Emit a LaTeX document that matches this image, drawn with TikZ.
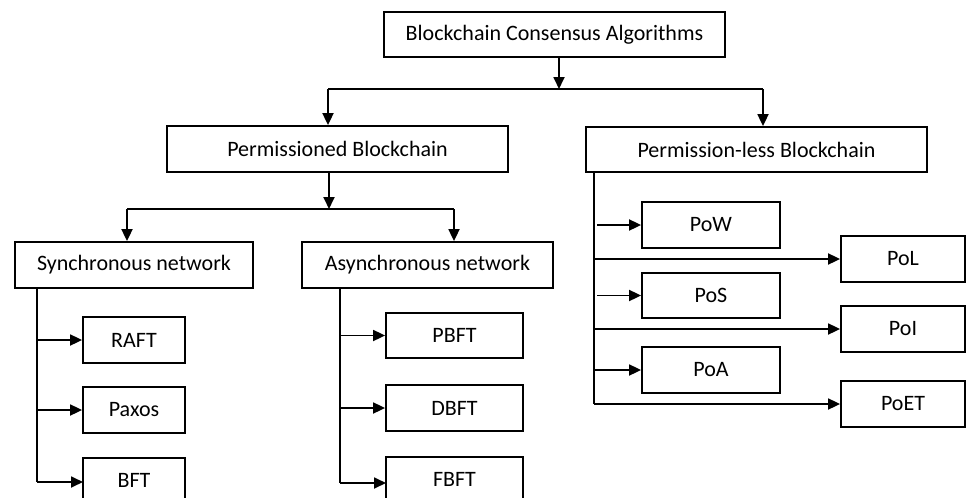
\documentclass[tikz,border=0pt]{standalone}
\usepackage{fontspec}
\setmainfont{Carlito}
\usetikzlibrary{arrows.meta}
\begin{document}
\begin{tikzpicture}[x=1pt,y=-1pt,
  box/.style={draw,line width=1.8pt,inner sep=0pt,font=\fontsize{22}{26}\selectfont,text=black},
  lbl/.style={inner sep=1pt,font=\fontsize{22}{26}\selectfont,text=black},
  ln/.style={line width=1.8pt},
  arr/.style={line width=1.8pt,-{Triangle[length=12pt,width=11pt]}}]
\useasboundingbox (0,0) rectangle (967,498);
\fill[white] (0,0) rectangle (967,498);
% level 0
\node[box,minimum width=341pt,minimum height=45pt] (top) at (554.5,34.5) {Blockchain Consensus Algorithms};
% level 1
\node[box,minimum width=341pt,minimum height=46pt] (perm) at (337.5,149) {Permissioned Blockchain};
\node[box,minimum width=341pt,minimum height=45pt] (pless) at (756.5,149.5) {Permission-less Blockchain};
% level 2
\node[box,minimum width=238pt,minimum height=46pt] (sync) at (134,265) {Synchronous network};
\node[box,minimum width=251pt,minimum height=46pt] (async) at (427.5,265) {Asynchronous network};
% leaves
\node[box,minimum width=102pt,minimum height=46pt] (raft) at (134,340) {RAFT};
\node[box,minimum width=102pt,minimum height=46pt] (paxos) at (134,410) {Paxos};
\node[lbl] (bft) at (134,480) {BFT};
\draw[ln] (83,510) |- (185,458) -- (185,510);
\coordinate (bftw) at (83,482);
\node[box,minimum width=137pt,minimum height=45pt] (pbft) at (454.5,335.5) {PBFT};
\node[box,minimum width=137pt,minimum height=46pt] (dbft) at (454.5,408) {DBFT};
\node[lbl] (fbft) at (454.5,479) {FBFT};
\draw[ln] (386,510) |- (523,457) -- (523,510);
\coordinate (fbftw) at (386,483);
\node[box,minimum width=138pt,minimum height=46pt] (pow) at (711,225) {PoW};
\node[box,minimum width=138pt,minimum height=45pt] (pos) at (711,295.5) {PoS};
\node[box,minimum width=138pt,minimum height=46pt] (poa) at (711,370) {PoA};
\node[box,minimum width=124pt,minimum height=46pt] (pol) at (903,259) {PoL};
\node[box,minimum width=124pt,minimum height=46pt] (poi) at (903,329) {PoI};
\node[box,minimum width=124pt,minimum height=46pt] (poet) at (903,404) {PoET};
% coordinates
\coordinate (j0) at (559,89);
\coordinate (j0l) at (328,89);
\coordinate (j0r) at (763,89);
\coordinate (j1) at (329,209);
\coordinate (j1l) at (127,209);
\coordinate (j1r) at (454,209);
\coordinate (sv) at (37,288);
\coordinate (av) at (340,288);
\coordinate (pv) at (594,172);
% top split
\draw[arr] (top.south -| j0) -- (j0);
\draw[ln] (j0l) -- (j0r);
\draw[arr] (j0l) -- (perm.north -| j0l);
\draw[arr] (j0r) -- (pless.north -| j0r);
% permissioned split
\draw[arr] (perm.south -| j1) -- (j1);
\draw[ln] (j1l) -- (j1r);
\draw[arr] (j1l) -- (sync.north -| j1l);
\draw[arr] (j1r) -- (async.north -| j1r);
% synchronous
\draw[ln] (sv) -- (sv |- bftw);
\draw[arr] (sv |- raft.west) -- (raft.west);
\draw[arr] (sv |- paxos.west) -- (paxos.west);
\draw[arr] (sv |- bftw) -- (bftw);
% asynchronous
\draw[ln] (av) -- (av |- fbftw);
\draw[arr] (av |- pbft.west) -- (pbft.west);
\draw[arr] (av |- dbft.west) -- (dbft.west);
\draw[arr] (av |- fbftw) -- (fbftw);
% permission-less
\draw[ln] (pv) -- (pv |- poet.west);
\draw[arr] ([xshift=3pt]pv |- pow.west) -- (pow.west);
\draw[arr] (pv |- pol.west) -- (pol.west);
\draw[arr] ([xshift=3pt]pv |- pos.west) -- (pos.west);
\draw[arr] (pv |- poi.west) -- (poi.west);
\draw[arr] (pv |- poa.west) -- (poa.west);
\draw[arr] (pv |- poet.west) -- (poet.west);
\end{tikzpicture}
\end{document}
